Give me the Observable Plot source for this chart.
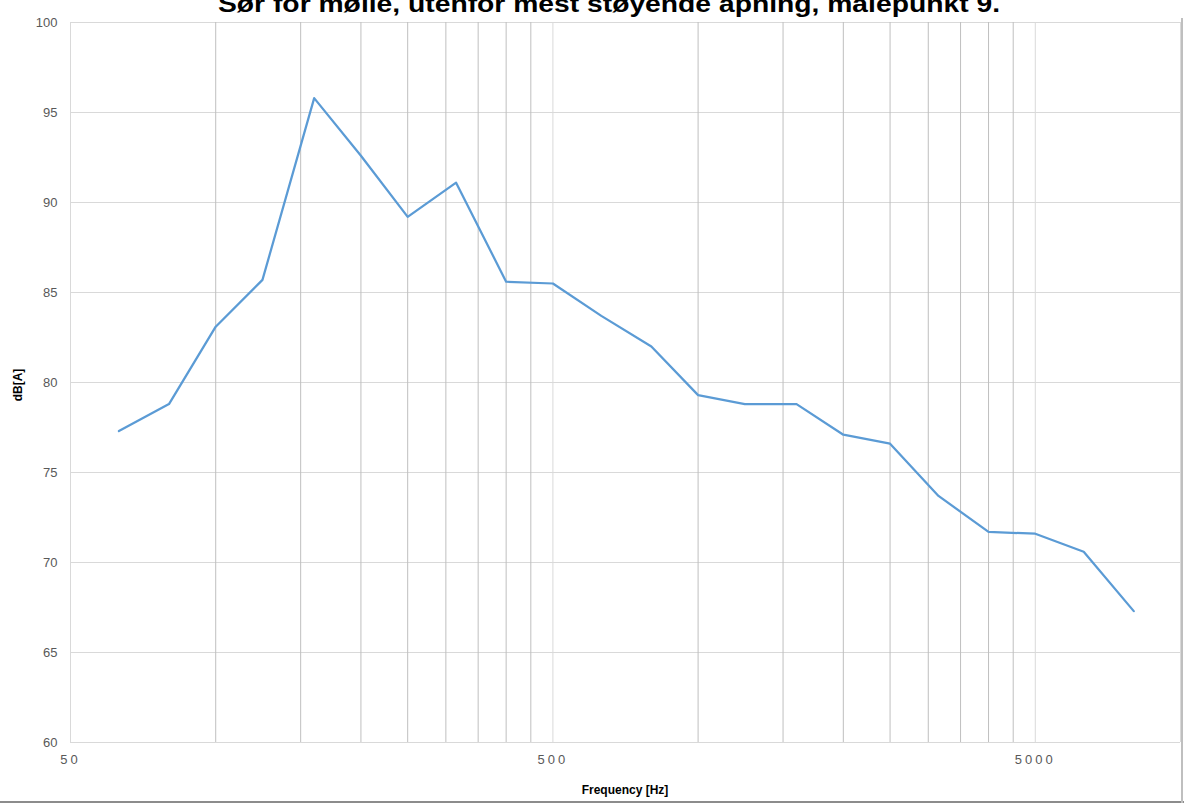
<!DOCTYPE html>
<html>
<head>
<meta charset="utf-8">
<script src="https://cdn.jsdelivr.net/npm/d3@7"></script>
<script src="https://cdn.jsdelivr.net/npm/@observablehq/plot@0.6"></script>
<style>
  html, body { margin: 0; padding: 0; background: #fff; overflow: hidden; }
  #chart { position: relative; width: 1184px; height: 810px; }
</style>
</head>
<body>
<div id="chart"></div>
<script>
// Data (third-octave band centre frequencies, Hz, and levels, dB[A])
const frequencies = [63, 80, 100, 125, 160, 200, 250, 315, 400, 500, 630, 800, 1000, 1250, 1600, 2000, 2500, 3150, 4000, 5000, 6300, 8000];
const levels = [77.3, 78.8, 83.1, 85.7, 95.8, 92.6, 89.2, 91.1, 85.6, 85.5, 83.7, 82.0, 79.3, 78.8, 78.8, 77.1, 76.6, 73.7, 71.7, 71.6, 70.6, 67.3];
const xMajorTicks = [50, 500, 5000];
const xMinorGrid = [100, 150, 200, 250, 300, 350, 400, 450, 1000, 1500, 2000, 2500, 3000, 3500, 4000, 4500];
const yTicks = [60, 65, 70, 75, 80, 85, 90, 95, 100];
const titleText = "Sør for mølle, utenfor mest støyende åpning, målepunkt 9.";
const xLabel = "Frequency [Hz]";
const yLabel = "dB[A]";

const data = frequencies.map((f, i) => ({f, v: levels[i]}));

const W = 1184, H = 810;
const mL = 70, mR = 4, mT = 22, mB = 68;

const plot = Plot.plot({
  width: W,
  height: H,
  marginLeft: mL,
  marginRight: mR,
  marginTop: mT,
  marginBottom: mB,
  style: {fontFamily: "'Liberation Sans', sans-serif", background: "#fff", overflow: "visible"},
  x: {type: "log", domain: [50, 10000], axis: null},
  y: {domain: [60, 100]},
  marks: [
    Plot.ruleY(yTicks, {stroke: "#d9d9d9", strokeWidth: 1}),
    Plot.ruleX(xMinorGrid, {stroke: "#bfbfbf", strokeWidth: 1}),
    Plot.ruleX(xMajorTicks.concat([10000]), {stroke: "#d9d9d9", strokeWidth: 1}),
    Plot.axisY({ticks: yTicks, tickSize: 0, tickPadding: 13, fontSize: 13, color: "#595959", label: null}),
    Plot.text(xMajorTicks, {x: d => d, frameAnchor: "bottom", dy: 21, text: d => String(d), fontSize: 13, fill: "#595959", className: "xtick"}),
    Plot.line(data, {x: "f", y: "v", stroke: "#5b9bd5", strokeWidth: 2.25, strokeLinejoin: "round", strokeLinecap: "round"})
  ]
});

const svg = d3.select(plot);
// letter-spaced x tick labels, like the original
svg.selectAll(".xtick text").style("letter-spacing", "3px");

// Title (clipped at top as in the original)
svg.append("text")
  .attr("x", 609).attr("y", 12)
  .attr("text-anchor", "middle")
  .attr("font-family", "'Liberation Sans', sans-serif")
  .attr("font-weight", "bold")
  .attr("font-size", 24)
  .attr("fill", "#000")
  .attr("textLength", 782)
  .attr("lengthAdjust", "spacingAndGlyphs")
  .text(titleText);

// Axis titles
svg.append("text")
  .attr("x", 625).attr("y", 794)
  .attr("text-anchor", "middle")
  .attr("font-family", "'Liberation Sans', sans-serif")
  .attr("font-weight", "bold")
  .attr("font-size", 12)
  .attr("fill", "#000")
  .text(xLabel);

svg.append("text")
  .attr("transform", "translate(22,385) rotate(-90)")
  .attr("text-anchor", "middle")
  .attr("font-family", "'Liberation Sans', sans-serif")
  .attr("font-weight", "bold")
  .attr("font-size", 12)
  .attr("fill", "#000")
  .text(yLabel);

// chart outer border fragments (bottom and right)
svg.append("line").attr("x1", 0).attr("x2", W).attr("y1", 802).attr("y2", 802)
  .attr("stroke", "#8c8c8c").attr("stroke-width", 2);
svg.append("line").attr("x1", 1182).attr("x2", 1182).attr("y1", 18).attr("y2", 803)
  .attr("stroke", "#bfbfbf").attr("stroke-width", 2);

document.getElementById("chart").appendChild(plot);
</script>
</body>
</html>
